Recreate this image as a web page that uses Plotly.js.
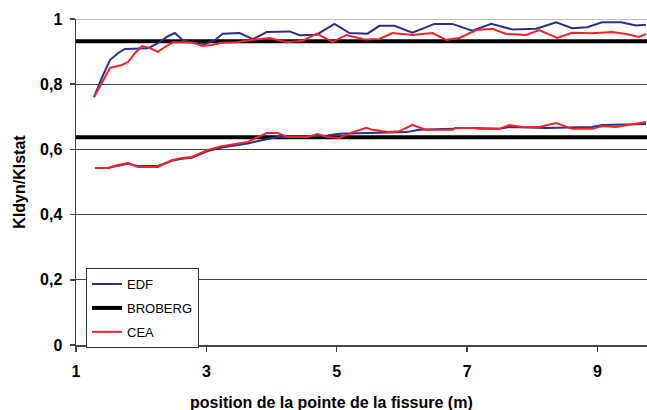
<!DOCTYPE html>
<html>
<head>
<meta charset="utf-8">
<script src="https://cdn.plot.ly/plotly-3.0.1.min.js"></script>
<style>html,body{margin:0;padding:0;background:#fff;}#chart{width:647px;height:410px;}</style>
</head>
<body>
<div id="chart"></div>
<script>
// EDF, upper curve
const edfUpX = [1.276,1.398,1.521,1.643,1.750,1.949,2.103,2.256,2.394,2.516,2.639,2.822,2.976,3.129,3.251,3.511,3.711,3.925,4.277,4.430,4.691,4.966,5.196,5.472,5.655,5.885,6.161,6.498,6.773,7.080,7.371,7.692,8.060,8.366,8.611,8.841,9.071,9.362,9.591,9.744];
const edfUpY = [0.760,0.820,0.874,0.895,0.908,0.908,0.910,0.926,0.945,0.957,0.935,0.926,0.923,0.935,0.955,0.957,0.938,0.960,0.962,0.950,0.952,0.985,0.957,0.955,0.979,0.979,0.958,0.985,0.985,0.964,0.985,0.968,0.970,0.990,0.972,0.975,0.990,0.990,0.980,0.982];
// EDF, lower curve
const edfLoX = [1.291,1.490,1.643,1.796,1.949,2.256,2.470,2.623,2.776,3.021,3.236,3.435,3.634,3.848,4.093,4.247,4.553,4.859,5.043,5.349,5.809,6.069,6.268,6.773,6.835,7.080,7.493,7.646,8.213,8.611,8.917,9.071,9.484,9.744];
const edfLoY = [0.543,0.543,0.550,0.556,0.549,0.549,0.565,0.571,0.574,0.595,0.606,0.612,0.618,0.628,0.638,0.638,0.640,0.643,0.648,0.650,0.653,0.653,0.660,0.663,0.666,0.666,0.663,0.669,0.666,0.669,0.669,0.675,0.678,0.678];
// CEA, upper curve
const ceaUpX = [1.276,1.398,1.521,1.704,1.796,1.904,2.011,2.133,2.256,2.363,2.485,2.669,2.822,2.930,3.083,3.236,3.466,3.711,3.971,4.231,4.476,4.691,4.936,5.150,5.426,5.655,5.855,6.161,6.467,6.681,6.881,7.141,7.386,7.600,7.907,8.106,8.381,8.611,8.917,9.224,9.438,9.637,9.744];
const ceaUpY = [0.760,0.807,0.850,0.859,0.868,0.895,0.917,0.911,0.899,0.914,0.929,0.929,0.926,0.917,0.920,0.927,0.929,0.936,0.942,0.929,0.933,0.955,0.930,0.951,0.937,0.939,0.957,0.951,0.957,0.936,0.942,0.966,0.970,0.954,0.951,0.966,0.942,0.958,0.956,0.960,0.954,0.945,0.954];
// CEA, lower curve
const ceaLoX = [1.291,1.490,1.643,1.796,1.949,2.256,2.470,2.623,2.776,3.021,3.236,3.435,3.634,3.925,4.093,4.247,4.553,4.706,4.859,5.043,5.242,5.456,5.548,5.809,5.962,6.161,6.375,6.773,6.835,7.080,7.187,7.493,7.646,7.845,8.106,8.366,8.611,8.917,9.071,9.285,9.484,9.637,9.744];
const ceaLoY = [0.543,0.543,0.552,0.558,0.546,0.546,0.567,0.574,0.577,0.598,0.610,0.616,0.623,0.650,0.650,0.638,0.638,0.647,0.638,0.635,0.653,0.666,0.660,0.653,0.656,0.675,0.660,0.660,0.666,0.666,0.663,0.663,0.675,0.669,0.669,0.681,0.663,0.663,0.672,0.669,0.675,0.681,0.684];
// BROBERG constant levels
const brobergLevels = [0.932, 0.637];
const xRange = [1, 9.76];
const yTickVals = [0, 0.2, 0.4, 0.6, 0.8, 1];
const yTickText = ['0', '0,2', '0,4', '0,6', '0,8', '1'];
const xTickVals = [1, 3, 5, 7, 9];
const xTickText = ['1', '3', '5', '7', '9'];

const FONT = 'Liberation Sans, Arial, sans-serif';
const blue = '#2e2e8a', red = '#f2232b';

const bx = [], by = [];
brobergLevels.forEach((v, i) => {
  if (i) { bx.push(null); by.push(null); }
  bx.push(xRange[0], xRange[1]); by.push(v, v);
});

const traces = [
  {x: bx, y: by, mode: 'lines', name: 'BROBERG', line: {color: '#000', width: 4}, legendrank: 2, legendgroup: 'b'},
  {x: edfUpX, y: edfUpY, mode: 'lines', name: 'EDF', line: {color: blue, width: 2}, legendrank: 1, legendgroup: 'e'},
  {x: edfLoX, y: edfLoY, mode: 'lines', name: 'EDF', line: {color: blue, width: 2}, showlegend: false, legendgroup: 'e'},
  {x: ceaUpX, y: ceaUpY, mode: 'lines', name: 'CEA', line: {color: red, width: 2}, legendrank: 3, legendgroup: 'c'},
  {x: ceaLoX, y: ceaLoY, mode: 'lines', name: 'CEA', line: {color: red, width: 2}, showlegend: false, legendgroup: 'c'}
];

const layout = {
  width: 647, height: 410,
  margin: {l: 76, r: 0, t: 19, b: 65},
  paper_bgcolor: '#fff', plot_bgcolor: '#fff',
  font: {family: FONT, color: '#000'},
  showlegend: true,
  legend: {
    x: 0.0175, y: 0.236, xanchor: 'left', yanchor: 'top',
    bgcolor: '#fff', bordercolor: '#333', borderwidth: 1,
    font: {family: FONT, size: 13, color: '#000'},
    traceorder: 'grouped', tracegroupgap: 4
  },
  xaxis: {
    range: xRange, tickmode: 'array', tickvals: xTickVals, ticktext: xTickText,
    showgrid: false, zeroline: false, showline: true, linecolor: '#444', linewidth: 1.5,
    ticks: 'outside', ticklen: 5, tickcolor: '#444', tickwidth: 1.5, ticklabelstandoff: 6,
    tickfont: {family: FONT, size: 16, color: '#000', weight: 'bold'}
  },
  yaxis: {
    range: [0, 1], tickmode: 'array', tickvals: yTickVals, ticktext: yTickText,
    showgrid: true, gridcolor: '#444', gridwidth: 1, zeroline: false,
    showline: true, linecolor: '#444', linewidth: 1.5,
    ticks: 'outside', ticklen: 5, tickcolor: '#444', tickwidth: 1.5, ticklabelstandoff: 4,
    tickfont: {family: FONT, size: 16, color: '#000', weight: 'bold'},
    title: {text: 'KIdyn/KIstat', font: {family: FONT, size: 16, color: '#000', weight: 'bold'}, standoff: 10}
  },
  shapes: [{type: 'line', xref: 'paper', yref: 'y', x0: 0, x1: 1, y0: 1, y1: 1, line: {color: '#a8a8a8', width: 1.5}, layer: 'above'}],
  annotations: [{
    text: 'position de la pointe de la fissure (m)', xref: 'paper', yref: 'paper',
    x: 0.447, y: -0.175, xanchor: 'center', yanchor: 'middle', showarrow: false,
    font: {family: FONT, size: 16, color: '#000', weight: 'bold'}
  }]
};

Plotly.newPlot('chart', traces, layout, {staticPlot: true, displayModeBar: false});
</script>
</body>
</html>
